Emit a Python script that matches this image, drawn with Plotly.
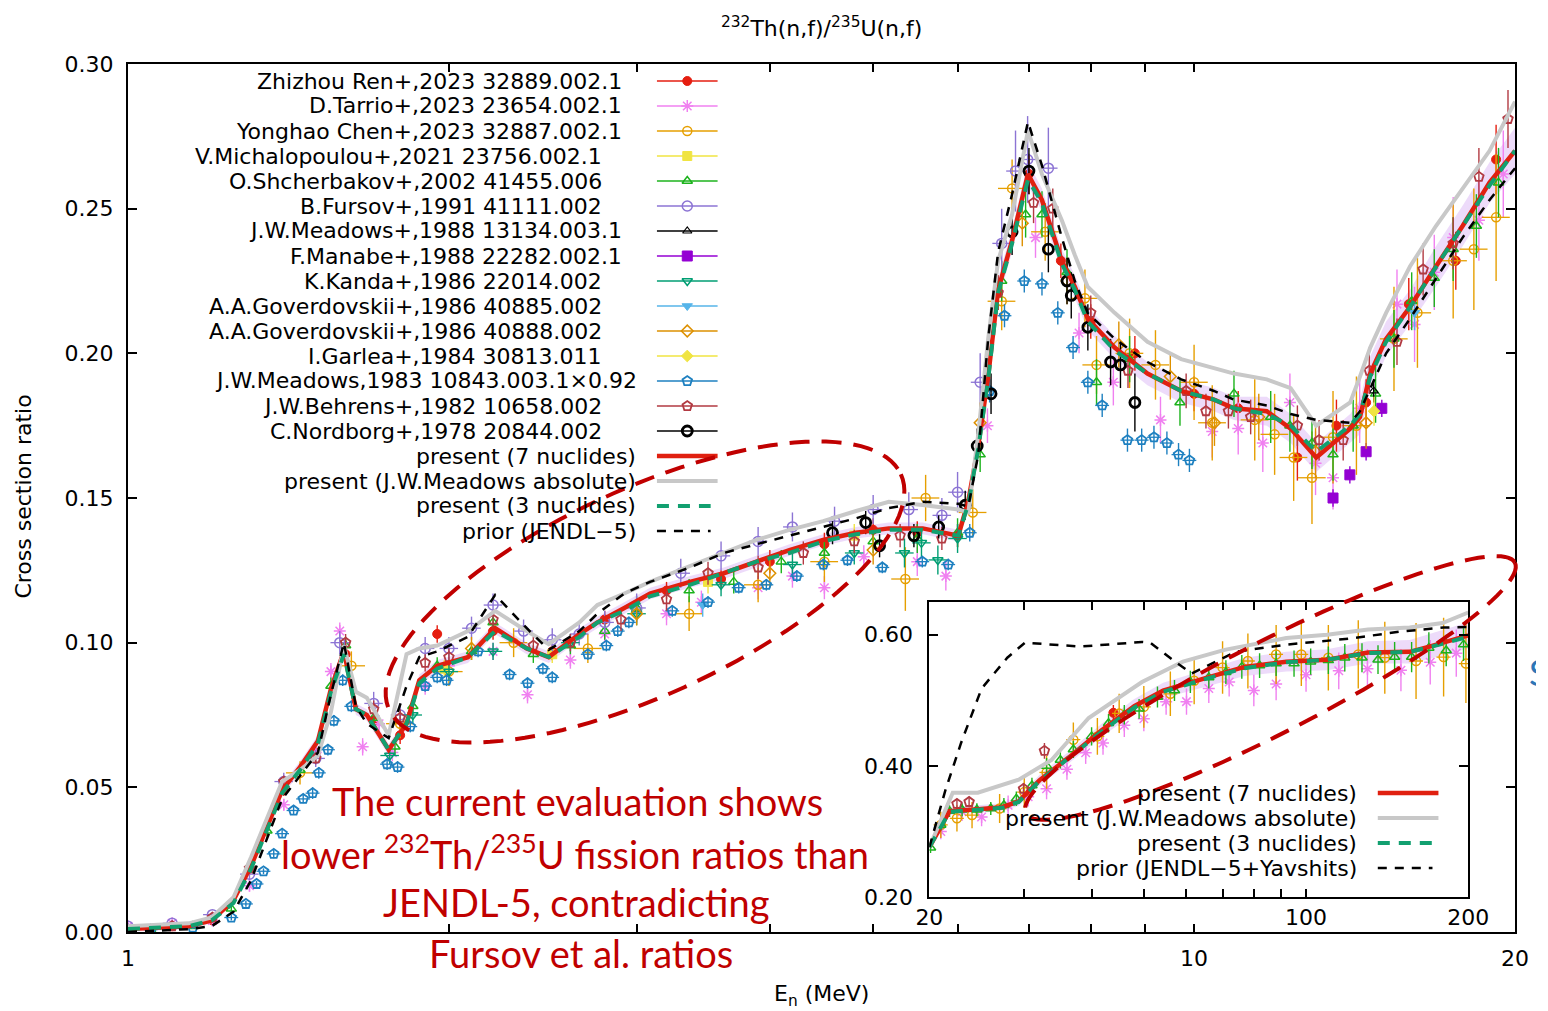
import numpy as np
import plotly.graph_objects as go

# ------------------------------------------------------------------ curves, main panel (1-20 MeV)
CURVE_E = [1.000, 1.140, 1.198, 1.256, 1.305, 1.357, 1.395, 1.450, 1.507, 1.550, 1.594, 1.636, 1.675,
           1.756, 1.825, 1.876, 1.950, 2.084, 2.210, 2.366, 2.481, 2.651, 2.756, 2.921, 3.088, 3.366,
           3.621, 3.886, 4.173, 4.488, 4.819, 5.172, 5.565, 6.010, 6.141, 6.274, 6.410, 6.549, 6.750,
           6.985, 7.199, 7.515, 7.729, 7.947, 8.423, 9.042, 9.725, 10.44, 10.90, 11.70, 12.32, 13.02,
           14.01, 14.31, 14.63, 15.14, 15.94, 16.86, 17.86, 18.93, 20.00]
RED_R = [0.001, 0.002, 0.004, 0.011, 0.023, 0.038, 0.049, 0.057, 0.066, 0.084, 0.097, 0.077, 0.075,
         0.063, 0.072, 0.087, 0.092, 0.095, 0.105, 0.098, 0.095, 0.103, 0.107, 0.112, 0.117, 0.121,
         0.124, 0.128, 0.132, 0.1355, 0.138, 0.1395, 0.1395, 0.137, 0.149, 0.168, 0.192, 0.222, 0.239,
         0.262, 0.253, 0.232, 0.223, 0.212, 0.202, 0.193, 0.187, 0.184, 0.181, 0.180, 0.174, 0.164,
         0.174, 0.178, 0.193, 0.205, 0.216, 0.230, 0.244, 0.259, 0.270]
GRAY_R = [0.002, 0.003, 0.005, 0.012, 0.026, 0.041, 0.052, 0.056, 0.061, 0.076, 0.099, 0.083, 0.081,
          0.068, 0.096, 0.098, 0.099, 0.104, 0.111, 0.104, 0.0995, 0.107, 0.113, 0.117, 0.121, 0.1265,
          0.131, 0.1355, 0.139, 0.142, 0.1455, 0.1487, 0.1476, 0.146, 0.145, 0.172, 0.205, 0.232, 0.248,
          0.277, 0.262, 0.246, 0.234, 0.223, 0.214, 0.204, 0.198, 0.195, 0.193, 0.191, 0.188, 0.175,
          0.183, 0.192, 0.202, 0.214, 0.230, 0.244, 0.257, 0.270, 0.287]
GREEN_R = [0.001, 0.002, 0.004, 0.010, 0.022, 0.037, 0.048, 0.056, 0.065, 0.083, 0.096, 0.077, 0.075,
           0.063, 0.072, 0.086, 0.091, 0.095, 0.104, 0.098, 0.095, 0.102, 0.107, 0.111, 0.116, 0.120,
           0.124, 0.128, 0.131, 0.135, 0.1375, 0.139, 0.139, 0.137, 0.148, 0.167, 0.191, 0.221, 0.238,
           0.260, 0.252, 0.231, 0.222, 0.211, 0.201, 0.193, 0.187, 0.184, 0.181, 0.179, 0.175, 0.166,
           0.175, 0.179, 0.192, 0.204, 0.216, 0.230, 0.244, 0.258, 0.270]
PRIOR_R = [0.000, 0.001, 0.002, 0.007, 0.018, 0.034, 0.046, 0.054, 0.062, 0.082, 0.100, 0.078, 0.072,
           0.067, 0.085, 0.095, 0.097, 0.102, 0.1165, 0.105, 0.0975, 0.104, 0.110, 0.117, 0.121, 0.126,
           0.131, 0.134, 0.137, 0.140, 0.143, 0.1465, 0.1487, 0.148, 0.147, 0.165, 0.205, 0.235, 0.255,
           0.280, 0.265, 0.240, 0.225, 0.214, 0.205, 0.197, 0.191, 0.187, 0.184, 0.182, 0.179, 0.177,
           0.176, 0.180, 0.188, 0.200, 0.212, 0.226, 0.240, 0.253, 0.264]
RED_UNC = [0.001, 0.001, 0.001, 0.001, 0.002, 0.002, 0.002, 0.002, 0.002, 0.002, 0.002, 0.002, 0.002,
           0.002, 0.002, 0.002, 0.002, 0.002, 0.002, 0.002, 0.002, 0.002, 0.002, 0.002, 0.002, 0.002,
           0.002, 0.002, 0.002, 0.002, 0.002, 0.002, 0.002, 0.002, 0.003, 0.003, 0.004, 0.004, 0.004,
           0.004, 0.004, 0.004, 0.004, 0.004, 0.004, 0.004, 0.004, 0.004, 0.004, 0.005, 0.005, 0.005,
           0.005, 0.006, 0.006, 0.006, 0.006, 0.007, 0.007, 0.007, 0.008]

# ------------------------------------------------------------------ curves, inset (20-200 MeV)
RED_IN_E = [20.0, 21.8, 24.6, 27.3, 29.3, 32.0, 36.3, 41.7, 48.0, 54.3, 64.6, 76.9, 91.9, 109.4, 130.3, 155.7, 169.4, 200.0]
RED_IN_R = [0.276, 0.331, 0.334, 0.337, 0.346, 0.378, 0.413, 0.454, 0.491, 0.515, 0.533, 0.551, 0.559, 0.562, 0.573, 0.574, 0.582, 0.599]
GREEN_IN_R = [0.276, 0.330, 0.333, 0.336, 0.345, 0.377, 0.412, 0.452, 0.489, 0.513, 0.532, 0.549, 0.558, 0.562, 0.572, 0.574, 0.581, 0.597]
RED_IN_UNC = [0.004, 0.006, 0.006, 0.006, 0.007, 0.008, 0.009, 0.010, 0.011, 0.012, 0.013, 0.014, 0.015, 0.016, 0.017, 0.018, 0.019, 0.020]
GRAY_IN_E = [20.0, 22.1, 24.6, 29.3, 33.7, 39.5, 49.6, 59.1, 70.6, 91.9, 109.4, 130.3, 155.7, 179.1, 200.0]
GRAY_IN_R = [0.276, 0.359, 0.359, 0.379, 0.409, 0.473, 0.528, 0.559, 0.577, 0.595, 0.600, 0.608, 0.611, 0.618, 0.634]
PRIOR_IN_E = [20.0, 21.4, 22.9, 25.0, 27.9, 30.1, 38.1, 49.6, 51.4, 57.1, 61.4, 74.0, 92.0, 120.0, 150.0, 180.0, 200.0]
PRIOR_IN_R = [0.276, 0.362, 0.435, 0.518, 0.565, 0.588, 0.582, 0.589, 0.588, 0.559, 0.541, 0.574, 0.585, 0.594, 0.605, 0.611, 0.612]

# ------------------------------------------------------------------ experimental data
REN_E = [1.00, 1.10, 1.20, 1.30, 1.40, 1.50, 1.60, 1.70, 1.80, 1.95, 2.20, 2.50, 2.80, 3.20, 3.60, 4.00, 4.50,
         5.00, 5.50, 6.00, 6.55, 7.00, 7.50, 8.00, 8.80, 10.0, 11.0, 12.5, 13.6, 14.5, 15.9, 17.6, 19.2]
REN_R = [0.001, 0.002, 0.004, 0.022, 0.049, 0.062, 0.096, 0.073, 0.068, 0.103, 0.104, 0.097, 0.108, 0.118, 0.122,
         0.128, 0.134, 0.139, 0.138, 0.137, 0.221, 0.262, 0.232, 0.211, 0.200, 0.186, 0.181, 0.164, 0.175, 0.183,
         0.217, 0.232, 0.267]
REN_DR = [0.001, 0.001, 0.001, 0.002, 0.002, 0.002, 0.003, 0.003, 0.003, 0.003, 0.003, 0.003, 0.003, 0.003, 0.003,
          0.004, 0.004, 0.004, 0.004, 0.004, 0.006, 0.007, 0.006, 0.006, 0.006, 0.006, 0.006, 0.008, 0.009, 0.008,
          0.009, 0.010, 0.012]
REN_IN_E = [43.9]
REN_IN_R = [0.481]
REN_IN_DR = [0.012]

TAR_E = [1.00, 1.10, 1.20, 1.30, 1.40, 1.50, 1.55, 1.58, 1.66, 1.72, 1.77, 1.90, 2.00, 2.20, 2.37, 2.60, 2.80,
         3.20, 3.45, 3.90, 4.20, 4.50, 4.90, 5.50, 5.85, 6.40, 7.10, 7.80, 8.40, 9.30, 10.4, 11.0, 11.6, 12.3,
         13.0, 13.5, 14.3, 15.5, 16.1, 16.8, 17.5, 18.5, 19.5]
TAR_R = [0.002, 0.003, 0.004, 0.016, 0.044, 0.062, 0.090, 0.104, 0.064, 0.072, 0.062, 0.085, 0.092, 0.097, 0.082,
         0.094, 0.103, 0.110, 0.114, 0.119, 0.123, 0.119, 0.1297, 0.128, 0.123, 0.175, 0.240, 0.207, 0.190, 0.177,
         0.173, 0.174, 0.169, 0.183, 0.162, 0.157, 0.181, 0.217, 0.210, 0.228, 0.240, 0.246, 0.262]
TAR_DR = [0.001, 0.001, 0.001, 0.002, 0.002, 0.002, 0.003, 0.003, 0.003, 0.003, 0.003, 0.003, 0.003, 0.003, 0.003,
          0.003, 0.003, 0.004, 0.004, 0.004, 0.004, 0.004, 0.004, 0.005, 0.005, 0.006, 0.007, 0.007, 0.008, 0.008,
          0.009, 0.009, 0.010, 0.010, 0.011, 0.011, 0.012, 0.012, 0.013, 0.013, 0.014, 0.014, 0.015]
TAR_IN_E = [21.0, 23.0, 25.0, 28.0, 30.5, 33.0, 36.0, 39.0, 42.0, 46.0, 50.0, 55.0, 60.0, 66.0, 72.0, 80.0, 88.0,
            100.0, 115.0, 130.0, 150.0, 170.0, 190.0]
TAR_IN_R = [0.300, 0.330, 0.322, 0.340, 0.353, 0.365, 0.395, 0.420, 0.435, 0.462, 0.472, 0.498, 0.498, 0.518, 0.528,
            0.515, 0.525, 0.539, 0.545, 0.548, 0.546, 0.558, 0.572]
TAR_IN_DR = [0.012, 0.014, 0.014, 0.015, 0.015, 0.016, 0.016, 0.017, 0.018, 0.018, 0.019, 0.020, 0.020, 0.022, 0.022,
             0.024, 0.025, 0.026, 0.028, 0.030, 0.032, 0.034, 0.036]

CHEN_E = [1.45, 1.62, 1.80, 2.00, 2.30, 2.70, 3.36, 3.90, 4.50, 5.36, 5.60, 6.20, 6.60, 6.75, 7.25, 7.90, 8.10,
          8.70, 9.20, 10.0, 10.4, 11.4, 11.9, 12.4, 12.9, 13.5, 14.2, 15.4, 16.2, 17.5, 18.3, 19.2]
CHEN_R = [0.055, 0.092, 0.072, 0.090, 0.100, 0.098, 0.110, 0.120, 0.128, 0.122, 0.150, 0.145, 0.218, 0.257, 0.242,
          0.219, 0.196, 0.200, 0.196, 0.190, 0.176, 0.177, 0.172, 0.164, 0.157, 0.171, 0.175, 0.205, 0.214, 0.232,
          0.236, 0.247]
CHEN_DR = [0.004, 0.005, 0.005, 0.005, 0.005, 0.005, 0.006, 0.006, 0.007, 0.011, 0.008, 0.008, 0.010, 0.010, 0.010,
           0.010, 0.010, 0.012, 0.012, 0.013, 0.013, 0.014, 0.014, 0.015, 0.016, 0.016, 0.017, 0.018, 0.019, 0.020,
           0.021, 0.022]
CHEN_IN_E = [21.0, 22.5, 24.0, 27.0, 30.0, 33.0, 37.0, 41.0, 45.0, 50.0, 56.0, 62.0, 70.0, 78.0, 88.0, 98.0, 110.0,
             125.0, 140.0, 160.0, 180.0, 198.0]
CHEN_IN_R = [0.310, 0.320, 0.325, 0.335, 0.360, 0.390, 0.440, 0.445, 0.480, 0.490, 0.510, 0.530, 0.550, 0.560, 0.570,
             0.570, 0.565, 0.570, 0.565, 0.560, 0.566, 0.556]
CHEN_IN_DR = [0.020, 0.020, 0.020, 0.022, 0.024, 0.025, 0.026, 0.028, 0.030, 0.032, 0.034, 0.036, 0.040, 0.042, 0.045,
              0.048, 0.050, 0.052, 0.055, 0.058, 0.060, 0.060]

MIC_E = [1.98, 2.50, 3.50, 4.80]
MIC_R = [0.091, 0.096, 0.121, 0.137]
MIC_DR = [0.003, 0.003, 0.004, 0.004]

SHC_E = [1.05, 1.15, 1.25, 1.35, 1.45, 1.55, 1.60, 1.70, 1.78, 1.85, 1.95, 2.10, 2.20, 2.40, 2.60, 2.80, 3.00,
         3.36, 3.70, 4.10, 4.50, 5.00, 5.50, 6.00, 6.30, 6.60, 6.95, 7.20, 7.60, 8.10, 8.70, 9.70, 10.9, 11.8,
         12.3, 12.9, 13.5, 14.1, 14.8, 15.4, 16.0, 16.8, 17.5, 18.4, 19.3]
SHC_R = [0.001, 0.002, 0.008, 0.035, 0.056, 0.085, 0.099, 0.074, 0.064, 0.078, 0.092, 0.097, 0.107, 0.096, 0.099,
         0.104, 0.112, 0.118, 0.121, 0.128, 0.131, 0.135, 0.136, 0.138, 0.165, 0.225, 0.248, 0.248, 0.228, 0.190,
         0.198, 0.183, 0.186, 0.178, 0.175, 0.169, 0.165, 0.175, 0.186, 0.205, 0.218, 0.226, 0.236, 0.244, 0.259]
SHC_DR = [0.001, 0.001, 0.001, 0.002, 0.002, 0.003, 0.003, 0.003, 0.003, 0.003, 0.003, 0.003, 0.003, 0.003, 0.003,
          0.003, 0.004, 0.004, 0.004, 0.004, 0.004, 0.004, 0.005, 0.005, 0.006, 0.007, 0.008, 0.008, 0.008, 0.008,
          0.008, 0.008, 0.008, 0.009, 0.009, 0.009, 0.009, 0.009, 0.010, 0.010, 0.010, 0.010, 0.011, 0.011, 0.012]
SHC_IN_E = [20.1, 21.0, 21.8, 23.0, 24.5, 26.0, 27.5, 29.0, 31.0, 33.0, 35.0, 37.0, 40.0, 43.0, 46.0, 49.0, 53.0,
            57.0, 61.0, 66.0, 71.0, 76.0, 82.0, 88.0, 95.0, 102.0, 110.0, 118.0, 127.0, 136.0, 146.0, 157.0, 169.0,
            182.0, 196.0]
SHC_IN_R = [0.275, 0.310, 0.331, 0.333, 0.333, 0.335, 0.340, 0.350, 0.370, 0.400, 0.409, 0.425, 0.445, 0.465, 0.478,
            0.487, 0.505, 0.515, 0.528, 0.535, 0.543, 0.551, 0.553, 0.556, 0.556, 0.559, 0.561, 0.565, 0.565, 0.562,
            0.566, 0.566, 0.580, 0.576, 0.585]
SHC_IN_DR = [0.008, 0.009, 0.009, 0.010, 0.010, 0.010, 0.011, 0.011, 0.012, 0.012, 0.013, 0.013, 0.014, 0.014, 0.015,
             0.015, 0.016, 0.016, 0.017, 0.017, 0.018, 0.018, 0.019, 0.019, 0.020, 0.020, 0.021, 0.021, 0.022, 0.022,
             0.023, 0.023, 0.024, 0.024, 0.025]

FUR_E = [1.00, 1.10, 1.20, 1.30, 1.40, 1.50, 1.58, 1.70, 1.80, 1.90, 2.00, 2.10, 2.20, 2.35, 2.50, 2.65, 2.80,
         3.00, 3.30, 3.60, 3.90, 4.20, 4.60, 5.00, 5.40, 5.80, 6.00, 6.30, 6.60, 6.80, 6.98, 7.30]
FUR_R = [0.002, 0.003, 0.006, 0.020, 0.052, 0.060, 0.100, 0.079, 0.075, 0.098, 0.098, 0.105, 0.113, 0.104, 0.101,
         0.103, 0.107, 0.112, 0.124, 0.130, 0.135, 0.140, 0.142, 0.146, 0.146, 0.144, 0.152, 0.190, 0.238, 0.263,
         0.267, 0.264]
FUR_DR = [0.001, 0.001, 0.001, 0.002, 0.003, 0.003, 0.004, 0.004, 0.004, 0.004, 0.004, 0.004, 0.004, 0.004, 0.004,
          0.004, 0.004, 0.005, 0.005, 0.005, 0.005, 0.005, 0.005, 0.005, 0.006, 0.006, 0.007, 0.010, 0.012, 0.014,
          0.015, 0.014]

M88_E = [14.74]
M88_R = [0.187]
M88_DR = [0.004]

MAN_E = [13.5, 14.0, 14.5, 15.0]
MAN_R = [0.150, 0.158, 0.166, 0.181]
MAN_DR = [0.003, 0.003, 0.003, 0.003]

KAN_E = [1.76, 1.85, 2.00, 2.20, 2.60, 3.00, 3.60, 4.20, 4.80, 5.35, 5.55, 5.75, 6.00]
KAN_R = [0.061, 0.075, 0.090, 0.097, 0.100, 0.110, 0.120, 0.127, 0.131, 0.131, 0.1345, 0.1286, 0.136]
KAN_DR = [0.003, 0.003, 0.003, 0.003, 0.003, 0.004, 0.004, 0.004, 0.004, 0.005, 0.005, 0.005, 0.005]

G85_E = [3.46, 16.1]
G85_R = [0.113, 0.214]
G85_DR = [0.004, 0.006]

G88_E = [2.10, 3.00, 4.00, 5.00, 6.30, 6.90, 7.60, 8.50, 9.50, 10.45, 11.5, 13.0, 14.5]
G88_R = [0.098, 0.110, 0.124, 0.132, 0.176, 0.245, 0.225, 0.203, 0.192, 0.176, 0.178, 0.166, 0.176]
G88_DR = [0.004, 0.004, 0.005, 0.005, 0.007, 0.008, 0.008, 0.008, 0.008, 0.008, 0.008, 0.009, 0.009]

GAR_E = [14.75]
GAR_R = [0.180]
GAR_DR = [0.005]

M83_E = [1.05, 1.15, 1.25, 1.29, 1.32, 1.34, 1.37, 1.395, 1.43, 1.46, 1.49, 1.51, 1.54, 1.56, 1.59, 1.62, 1.75,
         1.79, 1.84, 1.90, 1.95, 1.99, 2.13, 2.28, 2.37, 2.45, 2.50, 2.70, 2.81, 2.88, 2.95, 3.24, 3.50, 3.74,
         3.97, 4.24, 4.49, 4.73, 5.10, 5.56, 5.88, 6.16, 6.43, 6.64, 6.93, 7.20, 7.45, 7.70, 7.95, 8.20, 8.66,
         8.93, 9.17, 9.43, 9.67, 9.90]
M83_R = [0.0008, 0.0015, 0.005, 0.0097, 0.0166, 0.021, 0.027, 0.034, 0.042, 0.046, 0.048, 0.055, 0.063, 0.073,
         0.087, 0.078, 0.058, 0.057, 0.071, 0.085, 0.088, 0.087, 0.097, 0.089, 0.086, 0.091, 0.088, 0.096, 0.099,
         0.104, 0.107, 0.111, 0.114, 0.119, 0.120, 0.123, 0.127, 0.1285, 0.126, 0.128, 0.127, 0.138, 0.187, 0.213,
         0.225, 0.224, 0.214, 0.202, 0.190, 0.182, 0.170, 0.170, 0.171, 0.169, 0.165, 0.163]
M83_DR = [0.0005, 0.0005, 0.001, 0.001, 0.001, 0.001, 0.0015, 0.0015, 0.0015, 0.0015, 0.002, 0.002, 0.002, 0.002,
          0.002, 0.002, 0.002, 0.002, 0.002, 0.002, 0.002, 0.002, 0.002, 0.002, 0.002, 0.002, 0.002, 0.002, 0.002,
          0.002, 0.002, 0.002, 0.002, 0.002, 0.002, 0.002, 0.002, 0.002, 0.002, 0.002, 0.002, 0.003, 0.004, 0.004,
          0.004, 0.004, 0.004, 0.004, 0.004, 0.004, 0.004, 0.004, 0.004, 0.004, 0.004, 0.004]

BEH_E = [1.10, 1.20, 1.30, 1.40, 1.50, 1.60, 1.70, 1.80, 1.90, 2.00, 2.20, 2.40, 2.60, 2.90, 3.20, 3.50, 3.90,
         4.30, 4.80, 5.30, 5.80, 6.55, 7.07, 7.37, 8.00, 8.67, 9.83, 10.26, 10.77, 11.3, 12.5, 13.1, 13.8, 14.6,
         15.5, 16.4, 17.5, 18.5, 19.7]
BEH_R = [0.002, 0.005, 0.022, 0.052, 0.060, 0.100, 0.077, 0.074, 0.093, 0.095, 0.108, 0.099, 0.100, 0.108, 0.115,
         0.124, 0.126, 0.131, 0.135, 0.137, 0.136, 0.221, 0.252, 0.250, 0.214, 0.194, 0.187, 0.180, 0.180, 0.178,
         0.175, 0.170, 0.170, 0.194, 0.204, 0.229, 0.238, 0.261, 0.281]
BEH_DR = [0.001, 0.001, 0.002, 0.002, 0.002, 0.003, 0.003, 0.003, 0.003, 0.003, 0.003, 0.003, 0.003, 0.004, 0.004,
          0.004, 0.004, 0.004, 0.004, 0.004, 0.004, 0.006, 0.007, 0.007, 0.006, 0.006, 0.006, 0.006, 0.006, 0.006,
          0.007, 0.007, 0.007, 0.008, 0.008, 0.009, 0.009, 0.010, 0.010]
BEH_IN_E = [22.5, 23.7, 29.9, 32.7]
BEH_IN_R = [0.342, 0.345, 0.365, 0.423]
BEH_IN_DR = [0.008, 0.008, 0.009, 0.012]

NOR_E = [4.58, 4.92, 5.07, 5.46, 5.76, 6.10, 6.26, 6.45, 6.75, 7.00, 7.30, 7.60, 7.67, 7.95, 8.35, 8.53, 8.80]
NOR_R = [0.138, 0.1415, 0.1335, 0.137, 0.140, 0.1475, 0.168, 0.186, 0.242, 0.263, 0.236, 0.225, 0.220, 0.209,
         0.197, 0.196, 0.183]
NOR_DR = [0.004, 0.004, 0.004, 0.004, 0.004, 0.005, 0.006, 0.007, 0.008, 0.008, 0.008, 0.008, 0.008, 0.008,
          0.008, 0.008, 0.010]

LABELS = ["Zhizhou Ren+,2023 32889.002.1", "D.Tarrio+,2023 23654.002.1", "Yonghao Chen+,2023 32887.002.1",
          "V.Michalopoulou+,2021 23756.002.1", "O.Shcherbakov+,2002 41455.006", "B.Fursov+,1991 41111.002",
          "J.W.Meadows+,1988 13134.003.1", "F.Manabe+,1988 22282.002.1", "K.Kanda+,1986 22014.002",
          "A.A.Goverdovskii+,1986 40885.002", "A.A.Goverdovskii+,1986 40888.002", "I.Garlea+,1984 30813.011",
          "J.W.Meadows,1983 10843.003.1×0.92", "J.W.Behrens+,1982 10658.002", "C.Nordborg+,1978 20844.002"]
CURVE_LABELS = ["present (7 nuclides)", "present (J.W.Meadows absolute)", "present (3 nuclides)", "prior (JENDL−5)"]
INSET_LABELS = ["present (7 nuclides)", "present (J.W.Meadows absolute)", "present (3 nuclides)",
                "prior (JENDL−5+Yavshits)"]
MAIN_TICKS = [1, 2, 3, 4, 5, 6, 7, 8, 9, 10, 20]
MAIN_TICKTEXT = ["1", "", "", "", "", "", "", "", "", "10", "20"]
INSET_TICKS = [20, 30, 40, 50, 60, 70, 80, 90, 100, 200]
INSET_TICKTEXT = ["20", "", "", "", "", "", "", "", "100", "200"]

MAIN_SETS = [(REN_E, REN_R, REN_DR), (TAR_E, TAR_R, TAR_DR), (CHEN_E, CHEN_R, CHEN_DR), (MIC_E, MIC_R, MIC_DR),
             (SHC_E, SHC_R, SHC_DR), (FUR_E, FUR_R, FUR_DR), (M88_E, M88_R, M88_DR), (MAN_E, MAN_R, MAN_DR),
             (KAN_E, KAN_R, KAN_DR), (G85_E, G85_R, G85_DR), (G88_E, G88_R, G88_DR), (GAR_E, GAR_R, GAR_DR),
             (M83_E, M83_R, M83_DR), (BEH_E, BEH_R, BEH_DR), (NOR_E, NOR_R, NOR_DR)]
INSET_SETS = {0: (REN_IN_E, REN_IN_R, REN_IN_DR), 1: (TAR_IN_E, TAR_IN_R, TAR_IN_DR),
              2: (CHEN_IN_E, CHEN_IN_R, CHEN_IN_DR), 4: (SHC_IN_E, SHC_IN_R, SHC_IN_DR),
              13: (BEH_IN_E, BEH_IN_R, BEH_IN_DR)}

# ------------------------------------------------------------------ styles
COLORS = ["#E51E10", "#F080F0", "#E69F00", "#F0E442", "#1DB31D", "#8C74D4", "#000000", "#9400D3",
          "#009E73", "#56B4E9", "#DD9000", "#F0E442", "#1E80C0", "#B23A42", "#000000"]
SYMBOLS = ["circle", "asterisk-open", "circle-open", "square", "triangle-up-open", "circle-open",
           "triangle-up-open", "square", "triangle-down-open", "triangle-down", "diamond-open", "diamond",
           "pentagon-open", "pentagon-open", "circle-open"]
SIZES = [9, 10, 9, 9, 9, 10, 8, 10, 9, 9, 9, 9, 10, 10, 10]
MLW = [1, 1.5, 1.5, 1, 1.5, 1.5, 1.2, 1, 1.5, 1, 1.5, 1, 1.8, 1.8, 2.8]
XERR_PCT = [0, 0, 3, 0, 0, 2, 0, 0, 2, 0, 0, 0, 1.5, 0, 0]
CURVE_COLORS = ["#E02010", "#C8C8C8", "#12A070", "#000000"]
CURVE_WIDTHS = [4.5, 4, 4, 2.5]
CURVE_DASH = ["solid", "solid", "12px,9px", "9px,8px"]
LEG_RIGHT = [627, 627, 627, 607, 607, 607, 627, 627, 607, 607, 607, 607, 642, 607, 607, 641, 641, 641, 641]

FONT = "DejaVu Sans"
FS = 22
W, H = 1548, 1011
PL, PR, PT, PB = 128, 1523, 64, 932


def px(x):
    return (x - PL) / (PR - PL)


def py(y):
    return (PB - y) / (PB - PT)


fig = go.Figure()
MAIN = dict(xaxis="x", yaxis="y")
INS = dict(xaxis="x2", yaxis="y2")


def add_band(E, mid, unc, axes):
    up = [m + u for m, u in zip(mid, unc)]
    lo = [m - u for m, u in zip(mid, unc)]
    fig.add_trace(go.Scatter(x=E, y=up, mode="lines", line=dict(width=0), hoverinfo="skip", **axes))
    fig.add_trace(go.Scatter(x=E, y=lo, mode="lines", line=dict(width=0), fill="tonexty",
                             fillcolor="rgba(222,190,245,0.55)", hoverinfo="skip", **axes))


add_band(CURVE_E, RED_R, RED_UNC, MAIN)
add_band(RED_IN_E, RED_IN_R, RED_IN_UNC, INS)


def add_set(i, E, R, DR, axes):
    c = COLORS[i]
    kw = dict(error_y=dict(type="data", array=DR, thickness=1.4, width=0, color=c))
    if XERR_PCT[i]:
        kw["error_x"] = dict(type="percent", value=XERR_PCT[i], thickness=1.3, width=0, color=c)
    fig.add_trace(go.Scatter(
        x=E, y=R, mode="markers",
        marker=dict(symbol=SYMBOLS[i], size=SIZES[i], color=c, line=dict(color=c, width=MLW[i])),
        **kw, **axes))


for i, (E, R, DR) in enumerate(MAIN_SETS):
    add_set(i, E, R, DR, MAIN)
for i, (E, R, DR) in INSET_SETS.items():
    add_set(i, E, R, DR, INS)

main_curves = [(CURVE_E, RED_R), (CURVE_E, GRAY_R), (CURVE_E, GREEN_R), (CURVE_E, PRIOR_R)]
inset_curves = [(RED_IN_E, RED_IN_R), (GRAY_IN_E, GRAY_IN_R), (RED_IN_E, GREEN_IN_R), (PRIOR_IN_E, PRIOR_IN_R)]
for k, (E, R) in enumerate(main_curves):
    fig.add_trace(go.Scatter(x=E, y=R, mode="lines",
                             line=dict(color=CURVE_COLORS[k], width=CURVE_WIDTHS[k], dash=CURVE_DASH[k]), **MAIN))
for k, (E, R) in enumerate(inset_curves):
    fig.add_trace(go.Scatter(x=E, y=R, mode="lines",
                             line=dict(color=CURVE_COLORS[k], width=CURVE_WIDTHS[k], dash=CURVE_DASH[k]), **INS))

# ------------------------------------------------------------------ manual gnuplot-style legends
annotations = []
shapes = []
for i in range(19):
    yrow = 81 + 25 * i
    text = LABELS[i] if i < 15 else CURVE_LABELS[i - 15]
    annotations.append(dict(x=px(LEG_RIGHT[i]), y=py(yrow), xref="paper", yref="paper", text=text,
                            showarrow=False, xanchor="right", yanchor="middle",
                            font=dict(family=FONT, size=FS, color="black")))
    if i < 15:
        shapes.append(dict(type="line", xref="paper", yref="paper", x0=px(660), x1=px(721), y0=py(yrow),
                           y1=py(yrow), line=dict(color=COLORS[i], width=1.5)))
        fig.add_trace(go.Scatter(x=[690.5], y=[yrow], mode="markers", xaxis="x3", yaxis="y3",
                                 marker=dict(symbol=SYMBOLS[i], size=SIZES[i], color=COLORS[i],
                                             line=dict(color=COLORS[i], width=MLW[i]))))
    else:
        k = i - 15
        x1 = 721 if k < 2 else 714
        shapes.append(dict(type="line", xref="paper", yref="paper", x0=px(660), x1=px(x1), y0=py(yrow),
                           y1=py(yrow), line=dict(color=CURVE_COLORS[k], width=CURVE_WIDTHS[k],
                                                  dash=CURVE_DASH[k])))

for k in range(4):
    yrow = 793 + 25 * k
    annotations.append(dict(x=px(1366), y=py(yrow), xref="paper", yref="paper", text=INSET_LABELS[k],
                            showarrow=False, xanchor="right", yanchor="middle",
                            font=dict(family=FONT, size=FS, color="black")))
    x1 = 1446 if k < 2 else 1440
    shapes.append(dict(type="line", xref="paper", yref="paper", x0=px(1385), x1=px(x1), y0=py(yrow),
                       y1=py(yrow), line=dict(color=CURVE_COLORS[k], width=CURVE_WIDTHS[k], dash=CURVE_DASH[k])))


# ------------------------------------------------------------------ red dashed ellipses (highlight)
def ellipse_path(cx, cy, a, b, ang_deg, n=120):
    t = np.linspace(0, 2 * np.pi, n)
    phi = np.radians(ang_deg)
    ux, uy = np.cos(phi), -np.sin(phi)
    vx, vy = np.sin(phi), np.cos(phi)
    xs = cx + a * np.cos(t) * ux + b * np.sin(t) * vx
    ys = cy + a * np.cos(t) * uy + b * np.sin(t) * vy
    pts = [f"{px(x):.5f},{py(y):.5f}" for x, y in zip(xs, ys)]
    return "M " + " L ".join(pts) + " Z"


for (cx, cy, a, b, ang) in [(648, 592, 283, 103, 24.6), (1277, 688, 276, 46, 27.0)]:
    shapes.append(dict(type="path", xref="paper", yref="paper", path=ellipse_path(cx, cy, a, b, ang),
                       line=dict(color="#C00000", width=4, dash="20px,12px"), layer="above"))

# ------------------------------------------------------------------ texts
annotations.append(dict(x=px(825), y=py(27), xref="paper", yref="paper",
                        text="<sup>232</sup>Th(n,f)/<sup>235</sup>U(n,f)", showarrow=False,
                        font=dict(family=FONT, size=FS, color="black"), xanchor="center", yanchor="middle"))
annotations.append(dict(x=px(22), y=py(497), xref="paper", yref="paper", text="Cross section ratio",
                        showarrow=False, textangle=-90, font=dict(family=FONT, size=FS, color="black"),
                        xanchor="center", yanchor="middle"))
annotations.append(dict(x=px(825), y=py(995), xref="paper", yref="paper", text="E<sub>n</sub> (MeV)",
                        showarrow=False, font=dict(family=FONT, size=FS, color="black"),
                        xanchor="center", yanchor="middle"))
NOTE_LINES = ["The current evaluation shows",
              "lower <sup>232</sup>Th/<sup>235</sup>U fission ratios than",
              "JENDL-5, contradicting",
              "Fursov et al. ratios"]
for (xc, yc), line in zip([(580, 801), (578, 852), (579, 902), (584, 953)], NOTE_LINES):
    annotations.append(dict(x=px(xc), y=py(yc), xref="paper", yref="paper", text=line, showarrow=False,
                            font=dict(family="Lato", size=38, color="#C00000"), xanchor="center",
                            yanchor="middle"))
# partially visible blue letter at the right page edge (clipped by a fixed-width text box kept inside the page)
annotations.append(dict(x=px(1537), y=py(672), xref="paper", yref="paper", text="S", showarrow=False,
                        width=7, height=44, align="left", borderpad=0, borderwidth=0,
                        xanchor="left", yanchor="middle",
                        font=dict(family="Lato", size=36, color="#2E75B6")))

axis_common = dict(showline=True, linecolor="black", mirror="allticks", ticks="inside", tickcolor="black",
                   showgrid=False, zeroline=False, tickfont=dict(family=FONT, size=FS, color="black"))

fig.update_layout(
    width=W, height=H, autosize=False, margin=dict(l=PL, r=W - PR, t=PT, b=H - PB),
    paper_bgcolor="white", plot_bgcolor="rgba(0,0,0,0)", showlegend=False,
    xaxis=dict(type="log", range=[0, np.log10(20)], domain=[0, 1], anchor="y", linewidth=2,
               tickmode="array", tickvals=MAIN_TICKS, ticktext=MAIN_TICKTEXT, ticklen=8, tickwidth=1.5,
               ticklabelstandoff=6, **axis_common),
    yaxis=dict(range=[0, 0.30], domain=[0, 1], anchor="x", linewidth=2, tickmode="array",
               tickvals=[0, 0.05, 0.10, 0.15, 0.20, 0.25, 0.30], tickformat=".2f", ticklen=9, tickwidth=1.5,
               ticklabelstandoff=8, **axis_common),
    xaxis2=dict(type="log", range=[np.log10(20), np.log10(200)], domain=[px(934), px(1476)], anchor="y2",
                linewidth=1.8, tickmode="array", tickvals=INSET_TICKS, ticktext=INSET_TICKTEXT,
                ticklen=8, tickwidth=1.5, **axis_common),
    yaxis2=dict(range=[0.2, 0.65], domain=[py(897), py(602)], anchor="x2", linewidth=1.8, tickmode="array",
                tickvals=[0.2, 0.4, 0.6], tickformat=".2f", ticklen=9, tickwidth=1.5, ticklabelstandoff=10,
                **axis_common),
    xaxis3=dict(range=[PL, PR], domain=[0, 1], anchor="y3", visible=False, fixedrange=True),
    yaxis3=dict(range=[PB, PT], domain=[0, 1], anchor="x3", visible=False, fixedrange=True),
    annotations=annotations, shapes=shapes,
)

fig.write_html("out.html", config={"displayModeBar": False, "responsive": False},
               post_script="document.body.style.margin='0px';")
